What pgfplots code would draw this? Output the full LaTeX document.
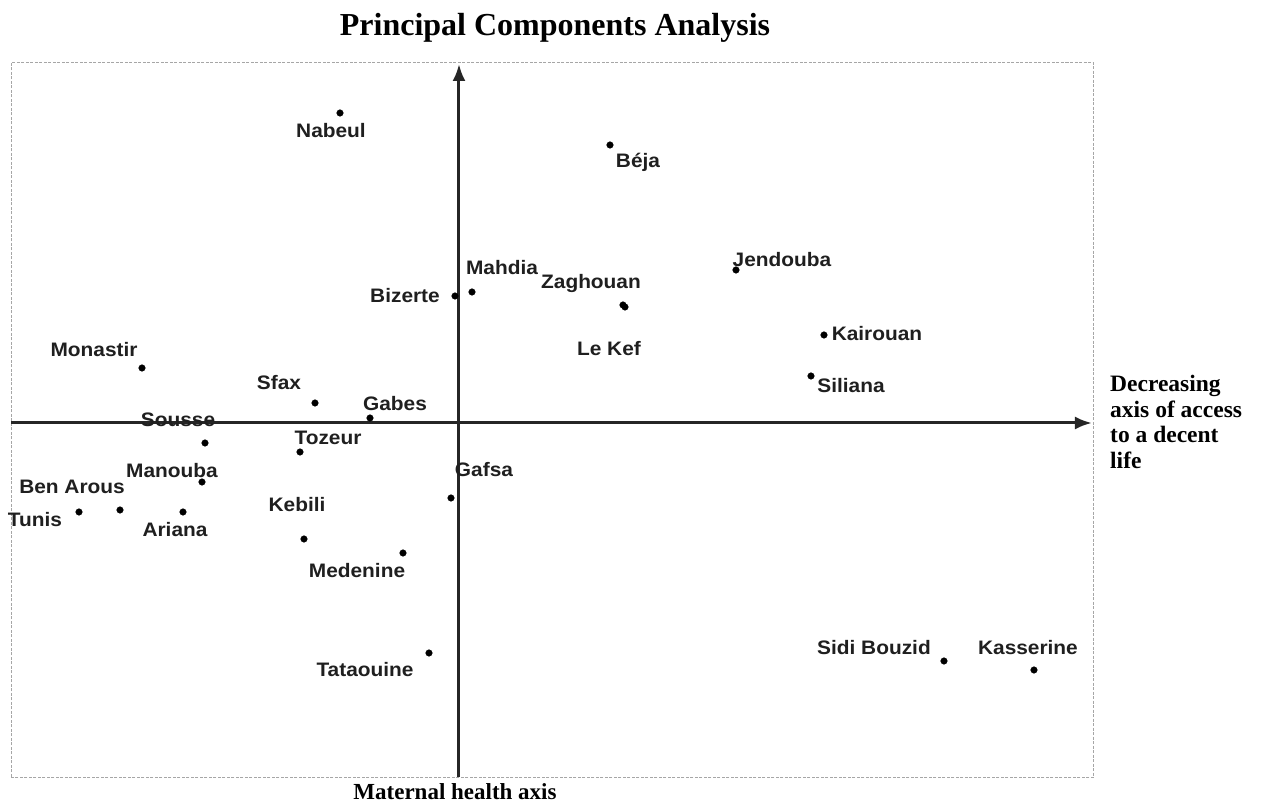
\documentclass[border=0pt]{standalone}
\usepackage{fontspec}
\setmainfont{Liberation Serif}
\newfontfamily\lab{Liberation Sans}[FakeStretch=1.07]
\usepackage{pgfplots}
\pgfplotsset{compat=1.18}
\usepackage{pgfplotstable}
\usetikzlibrary{arrows.meta}
\tikzset{lbl/.style={font=\lab\bfseries\fontsize{19.5bp}{22bp}\selectfont, anchor=base, inner sep=0pt, text=black!88}}

\pgfplotstableread{
x y
-1.19 3.10
1.51 2.78
2.77 1.53
0.13 1.31
-0.04 1.27
1.64 1.18
1.66 1.16
3.65 0.88
3.52 0.47
-3.17 0.55
-1.44 0.20
-0.89 0.05
-2.54 -0.20
-1.59 -0.29
-2.57 -0.59
-3.39 -0.87
-3.80 -0.89
-2.76 -0.89
-1.55 -1.16
-0.08 -0.75
-0.56 -1.30
-0.30 -2.30
4.85 -2.38
5.75 -2.47
}\pcadata

\begin{document}
\begin{tikzpicture}
\path[use as bounding box] (-11bp,-28bp) rectangle (1250bp,777bp);
\begin{axis}[
  at={(0,0)}, anchor=south west,
  scale only axis, width=1083bp, height=714bp,
  xmin=-4.48, xmax=6.35, ymin=-3.54, ymax=3.60,
  axis line style={draw=gray!70, dash pattern=on 3bp off 1.5bp, line width=1bp},
  xtick=\empty, ytick=\empty,
  clip=false,
]
\draw[line width=3bp, black!85, -{Latex[length=17bp,width=13bp]}] (axis cs:-4.48,0) -- (axis cs:6.33,0);
\draw[line width=3bp, black!85, -{Latex[length=17bp,width=13bp]}] (axis cs:0,-3.54) -- (axis cs:0,3.59);
\addplot[only marks, mark=*, mark size=3.3bp, black] table {\pcadata};
\node[lbl] at (axis cs:-1.28,2.85) {Nabeul};
\node[lbl] at (axis cs:1.79,2.55) {Béja};
\node[lbl] at (axis cs:3.23,1.56) {Jendouba};
\node[lbl] at (axis cs:0.43,1.48) {Mahdia};
\node[lbl] at (axis cs:-0.54,1.20) {Bizerte};
\node[lbl] at (axis cs:1.32,1.34) {Zaghouan};
\node[lbl] at (axis cs:1.50,0.67) {Le Kef};
\node[lbl] at (axis cs:4.18,0.82) {Kairouan};
\node[lbl] at (axis cs:3.92,0.30) {Siliana};
\node[lbl] at (axis cs:-3.65,0.66) {Monastir};
\node[lbl] at (axis cs:-1.80,0.33) {Sfax};
\node[lbl] at (axis cs:-0.64,0.12) {Gabes};
\node[lbl] at (axis cs:-2.81,-0.04) {Sousse};
\node[lbl] at (axis cs:-1.31,-0.22) {Tozeur};
\node[lbl] at (axis cs:-2.87,-0.55) {Manouba};
\node[lbl] at (axis cs:-3.87,-0.71) {Ben Arous};
\node[lbl] at (axis cs:-4.24,-1.04) {Tunis};
\node[lbl] at (axis cs:-2.84,-1.14) {Ariana};
\node[lbl] at (axis cs:-1.62,-0.89) {Kebili};
\node[lbl] at (axis cs:0.25,-0.54) {Gafsa};
\node[lbl] at (axis cs:-1.02,-1.55) {Medenine};
\node[lbl] at (axis cs:-0.94,-2.54) {Tataouine};
\node[lbl] at (axis cs:4.15,-2.32) {Sidi Bouzid};
\node[lbl] at (axis cs:5.69,-2.32) {Kasserine};
\end{axis}
\node[anchor=base, inner sep=0pt, font=\bfseries\fontsize{32bp}{36bp}\selectfont] at (544bp,741bp) {Principal Components Analysis};
\node[anchor=north west, inner sep=0pt, align=left, font=\bfseries\fontsize{23.5bp}{25.7bp}\selectfont] at (1099bp,402bp) {Decreasing\\axis of access\\to a decent\\life};
\node[anchor=base, inner sep=0pt, font=\bfseries\fontsize{23bp}{26bp}\selectfont] at (444bp,-22bp) {Maternal health axis};
\end{tikzpicture}
\end{document}
